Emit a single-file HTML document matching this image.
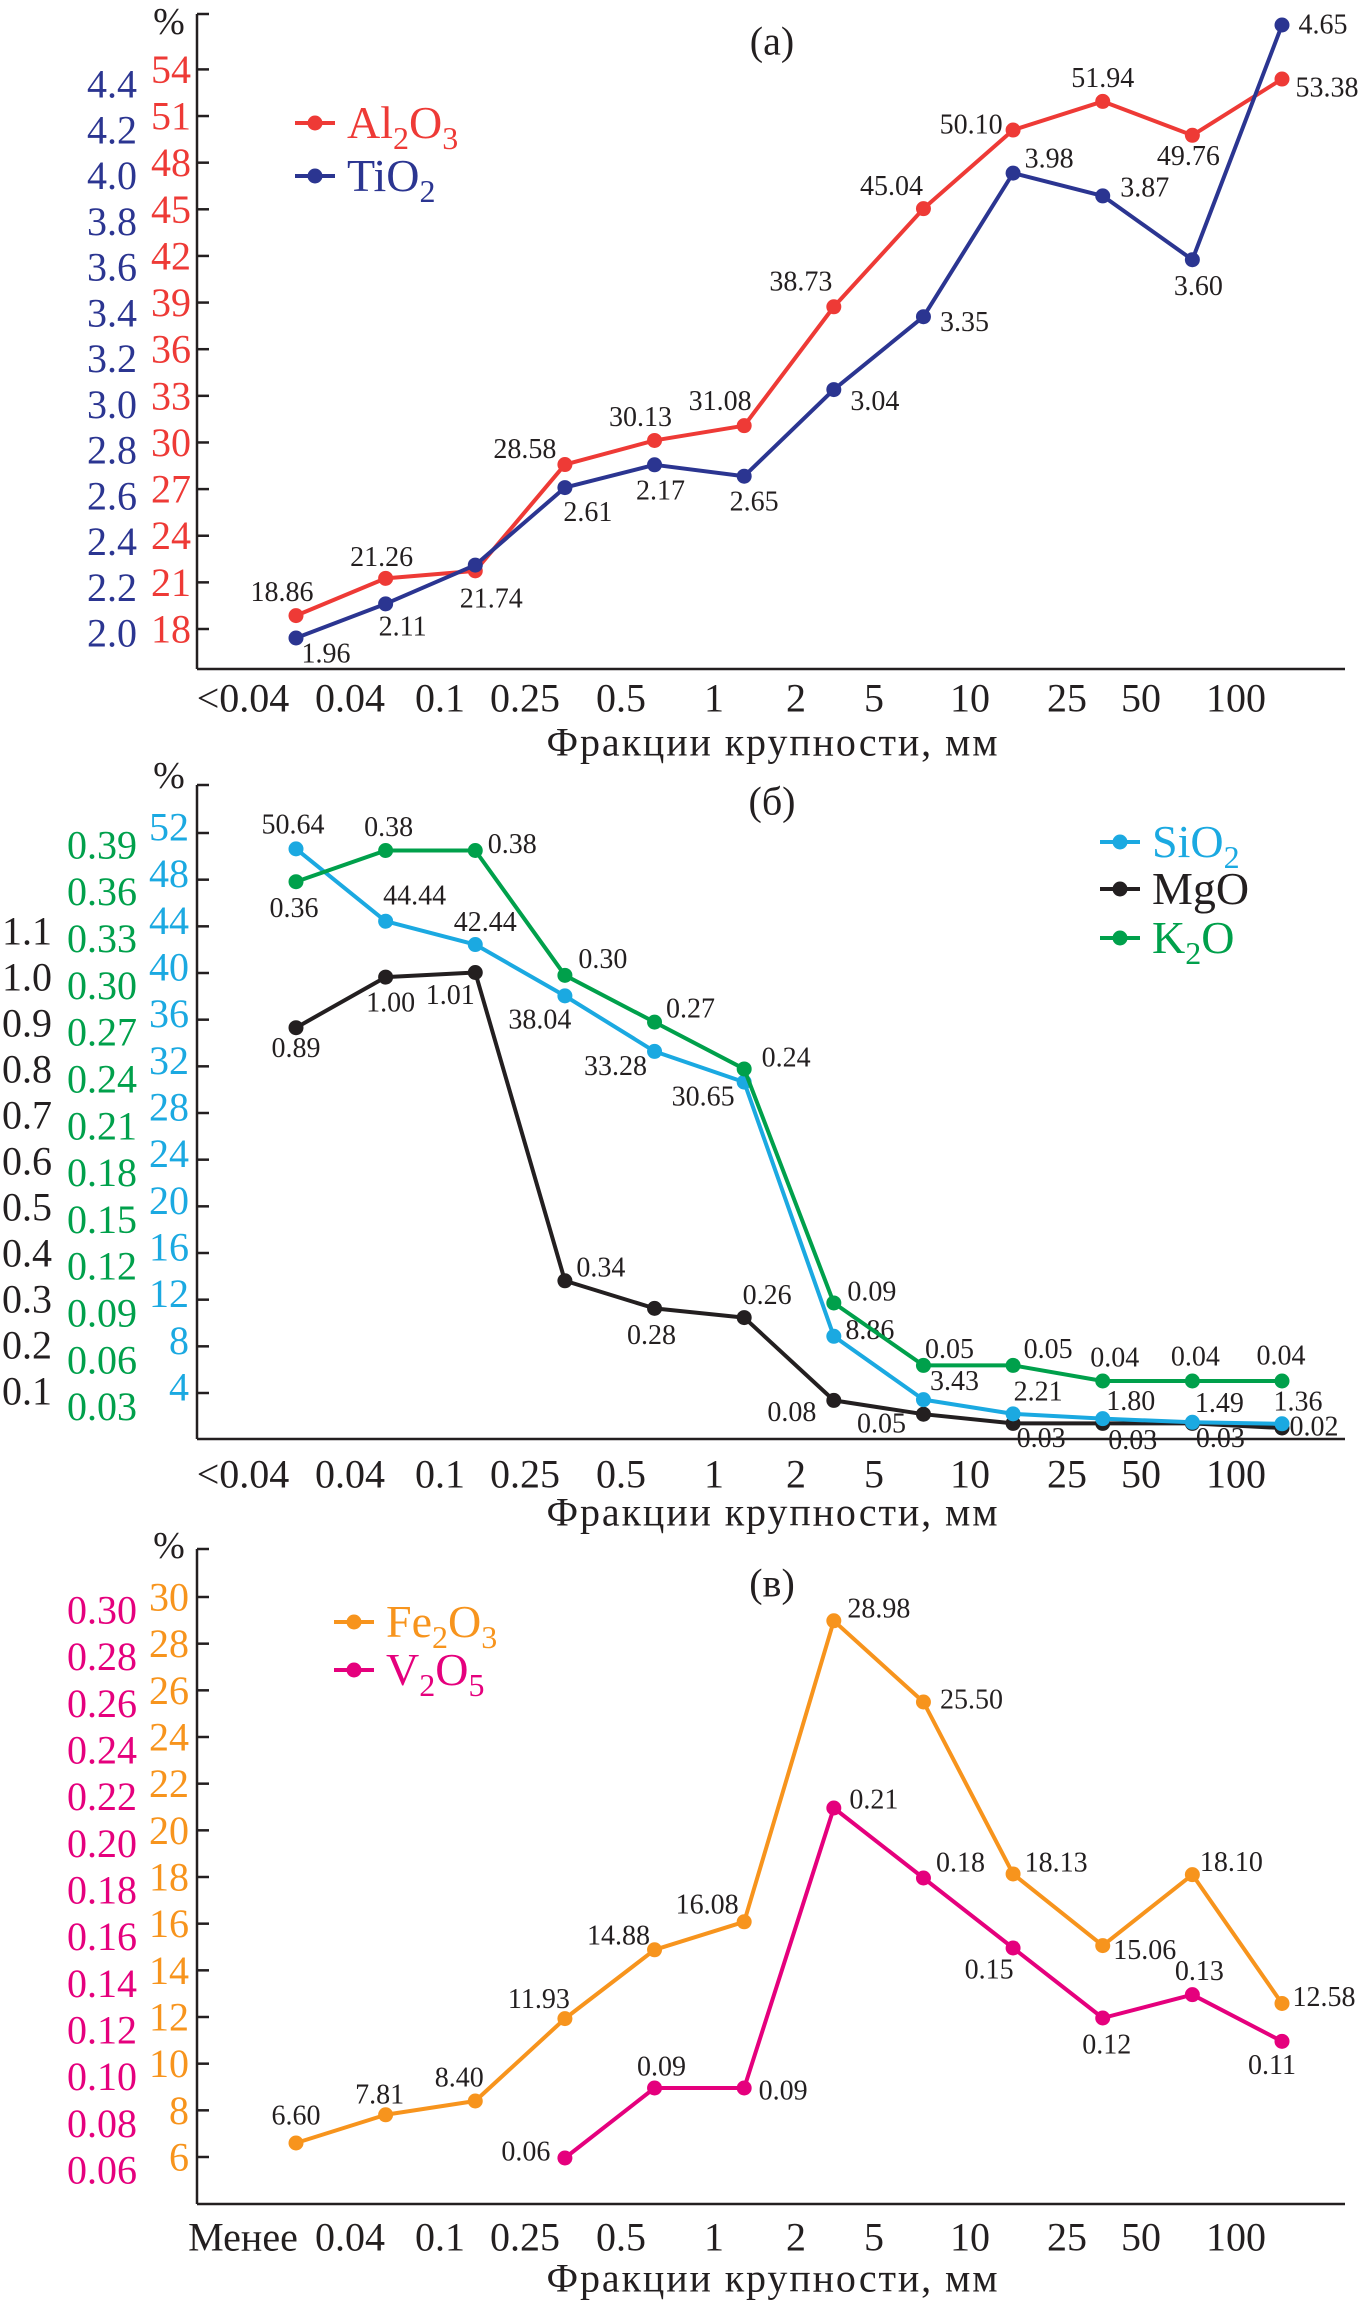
<!DOCTYPE html>
<html><head><meta charset="utf-8"><style>
html,body{margin:0;padding:0;background:#fff;}
svg{display:block;font-family:"Liberation Serif",serif;}
svg text{font-family:"Liberation Serif",serif;}
</style></head><body>
<svg id="chart" width="1359" height="2302" viewBox="0 0 1359 2302" xmlns="http://www.w3.org/2000/svg"></svg>
<script>
// ===== shared categories =====
const categoryCount = 12;
const xTickLabelsAB = ["<0.04","0.04","0.1","0.25","0.5","1","2","5","10","25","50","100"];
const xTickLabelsC = ["Менее","0.04","0.1","0.25","0.5","1","2","5","10","25","50","100"];

// ===== panel a =====
const al2o3Values = [18.86,21.26,21.74,28.58,30.13,31.08,38.73,45.04,50.10,51.94,49.76,53.38];
const al2o3Labels = ["18.86","21.26","21.74","28.58","30.13","31.08","38.73","45.04","50.10","51.94","49.76","53.38"];
const tio2Values = [1.96,2.11,2.28,2.62,2.72,2.67,3.05,3.37,4.0,3.90,3.62,4.65];
const tio2Labels = ["1.96","2.11","","2.61","2.17","2.65","3.04","3.35","3.98","3.87","3.60","4.65"];
const al2o3Ticks = [18,21,24,27,30,33,36,39,42,45,48,51,54];
const tio2Ticks = [2.0,2.2,2.4,2.6,2.8,3.0,3.2,3.4,3.6,3.8,4.0,4.2,4.4];

// ===== panel b =====
const sio2Values = [50.64,44.44,42.44,38.04,33.28,30.65,8.86,3.43,2.21,1.80,1.49,1.36];
const sio2Labels = ["50.64","44.44","42.44","38.04","33.28","30.65","8.86","3.43","2.21","1.80","1.49","1.36"];
const mgoValues = [0.89,1.00,1.01,0.34,0.28,0.26,0.08,0.05,0.03,0.03,0.03,0.02];
const mgoLabels = ["0.89","1.00","1.01","0.34","0.28","0.26","0.08","0.05","0.03","0.03","0.03","0.02"];
const k2oValues = [0.36,0.38,0.38,0.30,0.27,0.24,0.09,0.05,0.05,0.04,0.04,0.04];
const k2oLabels = ["0.36","0.38","0.38","0.30","0.27","0.24","0.09","0.05","0.05","0.04","0.04","0.04"];
const sio2Ticks = [4,8,12,16,20,24,28,32,36,40,44,48,52];
const mgoTicks = [0.1,0.2,0.3,0.4,0.5,0.6,0.7,0.8,0.9,1.0,1.1];
const k2oTicks = [0.03,0.06,0.09,0.12,0.15,0.18,0.21,0.24,0.27,0.30,0.33,0.36,0.39];

// ===== panel c =====
const fe2o3Values = [6.60,7.81,8.40,11.93,14.88,16.08,28.98,25.50,18.13,15.06,18.10,12.58];
const fe2o3Labels = ["6.60","7.81","8.40","11.93","14.88","16.08","28.98","25.50","18.13","15.06","18.10","12.58"];
const v2o5Values = [null,null,null,0.06,0.09,0.09,0.21,0.18,0.15,0.12,0.13,0.11];
const v2o5Labels = ["","","","0.06","0.09","0.09","0.21","0.18","0.15","0.12","0.13","0.11"];
const fe2o3Ticks = [6,8,10,12,14,16,18,20,22,24,26,28,30];
const v2o5Ticks = [0.06,0.08,0.10,0.12,0.14,0.16,0.18,0.20,0.22,0.24,0.26,0.28,0.30];

// ===== layout (styling / offsets) =====
const NS = "http://www.w3.org/2000/svg";
const svg = document.getElementById("chart");
const AX = 197;
const FONT = '"Liberation Serif", serif';
function xScale(i){ return 296 + i * (986 / (categoryCount - 1)); }
function lin(v0, y0, v1, y1){ return v => y0 + (v - v0) * (y1 - y0) / (v1 - v0); }
function mk(tag, attrs, parent){
  const e = document.createElementNS(NS, tag);
  for (const k in attrs) e.setAttribute(k, attrs[k]);
  (parent || svg).appendChild(e);
  return e;
}
function txt(s, x, y, size, color, anchor, parent){
  const t = mk("text", {x:x, y:y, "font-size":size, "font-family":FONT, fill:color, "text-anchor":anchor||"middle", "dominant-baseline":"central"}, parent);
  t.textContent = s;
  return t;
}

const COL = {red:"#ee3a36", navy:"#2b3591", sky:"#1ba9e1", black:"#231f20", green:"#00a04b", orange:"#f7941d", pink:"#e5007d"};

function drawAxes(g, top, bottom, xlabels, xlabY, titleY, letter, letterY, pctY){
  const a = mk("line", {x1:AX, y1:top, x2:AX, y2:bottom, stroke:"#231f20", "stroke-width":2.5}, g);
  
  
  const b = mk("line", {x1:AX, y1:bottom, x2:1345, y2:bottom, stroke:"#231f20", "stroke-width":2.5}, g);
  
  
  mk("line", {x1:AX, y1:top, x2:AX+12, y2:top, stroke:"#231f20", "stroke-width":2.5}, g);
  const xc = [243,350,440,525,621,714,796,874,970,1067,1141,1236];
  xlabels.forEach((s, i) => {
    const t = txt(s, xc[i], xlabY, 40, "#231f20", "middle", g);
    
    
  });
  const ttl = txt("Фракции крупности, мм", 772, titleY, 40, "#231f20", "middle", g);
  ttl.setAttribute("textLength", 451);
  
  
  const l = txt(letter, 772, letterY, 40, "#231f20", "middle", g);
  
  
  const p = txt("%", 169, pctY, 38, "#231f20", "middle", g);
  
  
}
function drawTicks(g, ticks, scale, rightX, color, decimals, tickMarks, dy){
  ticks.forEach(v => {
    const y = scale(v);
    if (tickMarks) mk("line", {x1:AX, y1:y, x2:AX+12, y2:y, stroke:"#231f20", "stroke-width":2.5}, g);
    const t = txt(v.toFixed(decimals), rightX, y + (dy||0), 40, color, "end", g);
    
    
  });
}
function drawSeries(g, name, vals, labels, scale, color, offs){
  const pts = [];
  vals.forEach((v, i) => { if (v !== null) pts.push([xScale(i), scale(v), i]); });
  const pl = mk("polyline", {points: pts.map(p => p[0] + "," + p[1]).join(" "), fill:"none", stroke:color, "stroke-width":4, "stroke-linejoin":"round"}, g);
  
  
  pts.forEach(p => {
    const c = mk("circle", {cx:p[0], cy:p[1], r:7.5, fill:color}, g);
    
    
    const s = labels[p[2]];
    if (s) {
      const o = offs[p[2]];
      const t = txt(s, p[0] + o[0], p[1] + o[1], 28, "#231f20", "middle", g);
      
      
    }
  });
}
function drawLegend(g, name, x, y, color, parts){
  const l = mk("line", {x1:x, y1:y, x2:x+40, y2:y, stroke:color, "stroke-width":4}, g);
  
  
  mk("circle", {cx:x+20, cy:y, r:7.5, fill:color}, g);
  const t = mk("text", {x:x+52, y:y+15, "font-size":46, "font-family":FONT, fill:color}, g);
  
  
  let sub = false;
  parts.forEach(p => {
    let dy = 0;
    if (p[1] && !sub) dy = 11;
    if (!p[1] && sub) dy = -11;
    sub = !!p[1];
    const ts = mk("tspan", p[1] ? {"font-size":32, dy:dy} : {dy:dy}, t);
    ts.textContent = p[0];
  });
}

// ---------- Panel a ----------
const ga = mk("g", {});


const yRed = lin(18, 629, 54, 69.4);
const yNavy = lin(1.96, 638, 4.65, 25);
drawAxes(ga, 14, 669, xTickLabelsAB, 698, 742, "(a)", 41, 22);
drawTicks(ga, al2o3Ticks, yRed, 191, COL.red, 0, true, 0);
drawTicks(ga, tio2Ticks, lin(2.0, 633, 4.4, 84), 137, COL.navy, 1, false, 0);
drawSeries(ga, "al2o3", al2o3Values, al2o3Labels, yRed, COL.red,
  [[-14,-23],[-4,-21],[16,28],[-40,-15],[-14,-23],[-24,-24],[-33,-25],[-32,-22],[-42,-5],[0,-23],[-4,21],[45,9]]);
drawSeries(ga, "tio2", tio2Values, tio2Labels, yNavy, COL.navy,
  [[30,16],[17,23],[0,0],[23,25],[6,26],[10,26],[41,12],[41,6],[36,-14],[42,-8],[6,27],[41,0]]);
drawLegend(ga, "al2o3", 295, 123, COL.red, [["Al"],["2",1],["O"],["3",1]]);
drawLegend(ga, "tio2", 295, 176, COL.navy, [["TiO"],["2",1]]);

// ---------- Panel b ----------
const gb = mk("g", {});


const ySky = lin(4, 1393, 52, 833);
const yBlack = lin(0.02, 1428, 1.01, 972.5);
const yGreen = lin(0.04, 1381, 0.38, 850.5);
drawAxes(gb, 785, 1439, xTickLabelsAB, 1474, 1512, "(б)", 801, 776);
drawTicks(gb, sio2Ticks, ySky, 189, COL.sky, 0, true, -6);
drawTicks(gb, k2oTicks, yGreen, 137, COL.green, 2, false, 10);
drawTicks(gb, mgoTicks, yBlack, 52, COL.black, 1, false, 0);
drawSeries(gb, "mgo", mgoValues, mgoLabels, yBlack, COL.black,
  [[0,21],[5,26],[-25,23],[36,-13],[-3,27],[23,-22],[-42,12],[-42,10],[28,15],[30,17],[28,15],[32,-1]]);
drawSeries(gb, "sio2", sio2Values, sio2Labels, ySky, COL.sky,
  [[-3,-24],[29,-25],[10,-22],[-25,24],[-39,15],[-41,15],[36,-6],[31,-18],[25,-22],[28,-17],[27,-19],[16,-22]]);
drawSeries(gb, "k2o", k2oValues, k2oLabels, yGreen, COL.green,
  [[-2,27],[3,-23],[37,-6],[38,-16],[36,-13],[42,-11],[38,-11],[26,-16],[35,-16],[12,-23],[3,-24],[-1,-25]]);
drawLegend(gb, "sio2", 1100, 842, COL.sky, [["SiO"],["2",1]]);
drawLegend(gb, "mgo", 1100, 889, COL.black, [["MgO"]]);
drawLegend(gb, "k2o", 1100, 938, COL.green, [["K"],["2",1],["O"]]);

// ---------- Panel c ----------
const gc = mk("g", {});


const yOrange = lin(6, 2157, 30, 1597);
const yPink = lin(0.06, 2158, 0.21, 1808);
drawAxes(gc, 1549, 2204, xTickLabelsC, 2237, 2278, "(в)", 1583, 1546);
drawTicks(gc, fe2o3Ticks, yOrange, 189, COL.orange, 0, true, 0);
drawTicks(gc, v2o5Ticks, yPink, 137, COL.pink, 2, false, 12);
drawSeries(gc, "fe2o3", fe2o3Values, fe2o3Labels, yOrange, COL.orange,
  [[0,-27],[-6,-20],[-16,-23],[-26,-19],[-36,-14],[-37,-17],[45,-12],[48,-2],[43,-11],[42,5],[39,-12],[42,-6]]);
drawSeries(gc, "v2o5", v2o5Values, v2o5Labels, yPink, COL.pink,
  [[0,0],[0,0],[0,0],[-39,-6],[7,-21],[39,3],[40,-8],[37,-15],[-24,22],[4,27],[7,-23],[-10,24]]);
drawLegend(gc, "fe2o3", 334, 1622, COL.orange, [["Fe"],["2",1],["O"],["3",1]]);
drawLegend(gc, "v2o5", 334, 1670, COL.pink, [["V"],["2",1],["O"],["5",1]]);
</script>
</body></html>
